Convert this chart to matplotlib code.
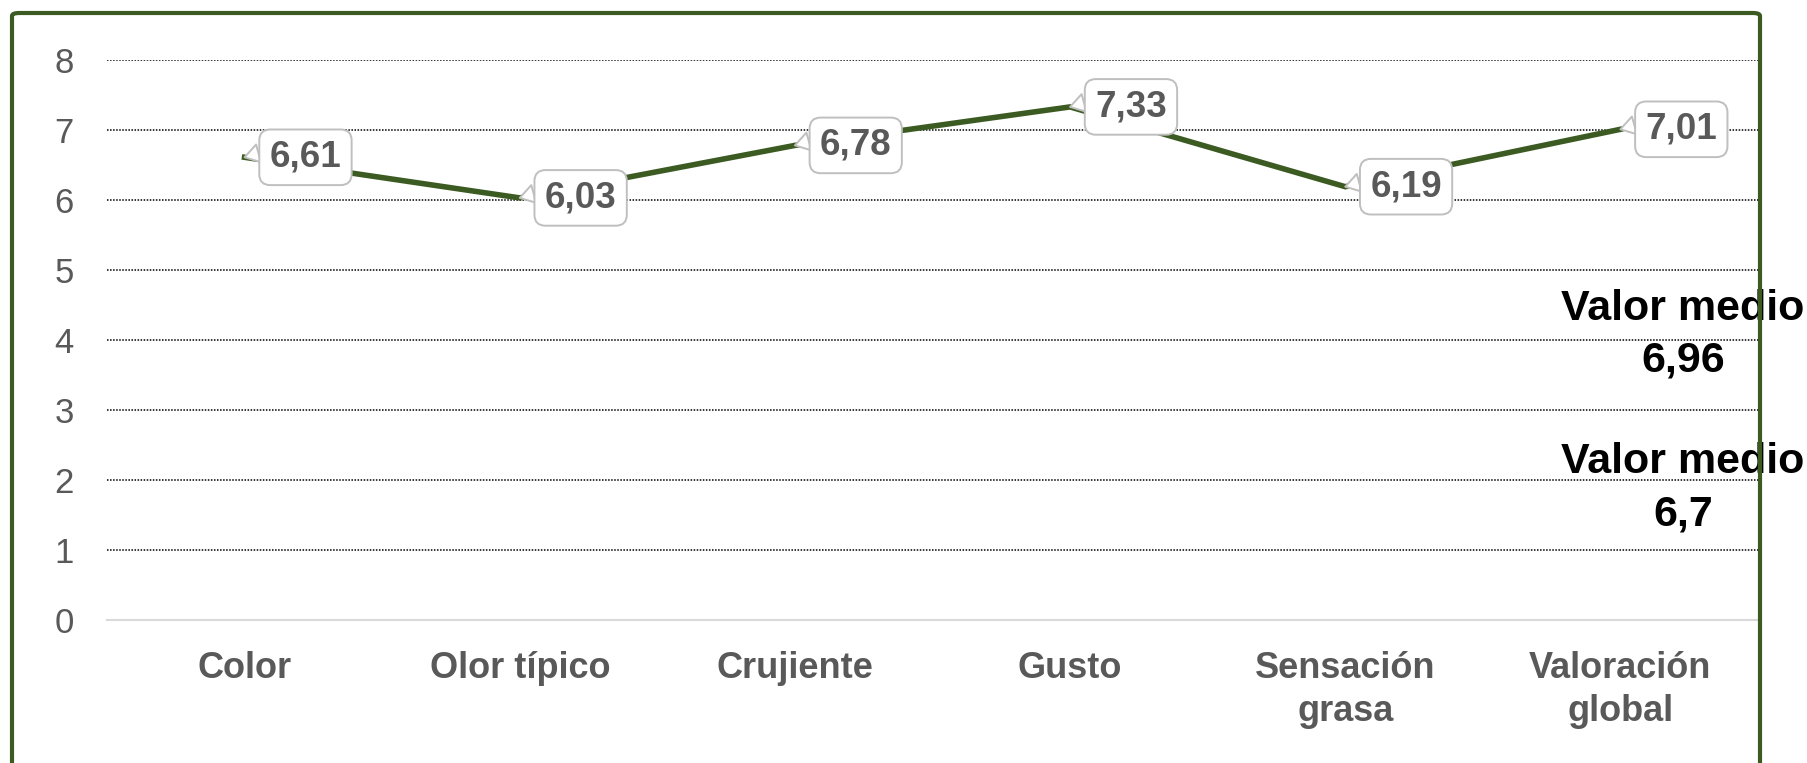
import matplotlib.pyplot as plt
from matplotlib.patches import FancyBboxPatch
import numpy as np

#--- データ ---#
categories = ['Color', 'Olor típico', 'Crujiente', 'Gusto', 'Sensación\ngrasa', 'Valoración\nglobal']
values = [6.61, 6.03, 6.78, 7.33, 6.19, 7.01]
value_labels = ['6,61', '6,03', '6,78', '7,33', '6,19', '7,01']
y_ticks = [0, 1, 2, 3, 4, 5, 6, 7, 8]
mean_titles = ['Valor medio', 'Valor medio']
mean_values = ['6,96', '6,7']

#--- 色 ---#
green = '#3b5b22'
gray_text = '#595959'
box_edge = '#bfbfbf'

plt.rcParams['font.family'] = ['Liberation Sans', 'DejaVu Sans']

W, H = 1808, 763
fig = plt.figure(figsize=(W / 100, H / 100), dpi=100)
ax = fig.add_axes([107 / W, 1 - 620 / H, (1758 - 107) / W, (620 - 60) / H])

x = np.arange(len(categories))
ax.plot(x, values, color=green, lw=4.0, solid_joinstyle='miter', zorder=3)

# データラベル (吹き出し)
for xi, v, lab in zip(x, values, value_labels):
    ax.annotate(lab, xy=(xi, v), xytext=(25, 0), textcoords='offset pixels',
                ha='left', va='center', fontsize=26.5, fontweight='bold', color=gray_text,
                bbox=dict(boxstyle='round,pad=0.28,rounding_size=0.3', fc='white', ec=box_edge, lw=1.4),
                arrowprops=dict(arrowstyle='wedge,tail_width=0.5,shrink_factor=0.5', fc='white', ec=box_edge,
                                lw=1.4, shrinkA=0, shrinkB=0, relpos=(0, 0.7)),
                zorder=4)

# 軸設定
ax.set_xlim(-0.5, len(categories) - 0.5)
ax.set_ylim(0, 8)
ax.set_yticks(y_ticks)
ax.set_xticks(x)
ax.set_xticklabels(categories, fontsize=26, fontweight='bold', color=gray_text, linespacing=1.3)
ax.tick_params(axis='y', length=0, pad=24, labelsize=25, labelcolor=gray_text)
ax.tick_params(axis='x', length=0, pad=22)

for s in ['top', 'right', 'left']:
    ax.spines[s].set_visible(False)
ax.spines['bottom'].set_color('#d9d9d9')
ax.spines['bottom'].set_linewidth(1.5)

ax.yaxis.grid(True, color='black', linestyle=(0, (1, 1)), lw=1.1)
ax.yaxis.get_gridlines()[0].set_visible(False)
ax.set_axisbelow(True)

# 平均値テキスト
title_y = [309, 462]
value_y = [361, 514]
for t, v, ty, vy in zip(mean_titles, mean_values, title_y, value_y):
    fig.text(1683 / W, 1 - ty / H, t, ha='center', va='center', fontsize=31,
             fontweight='bold', color='black', zorder=5)
    fig.text(1683 / W, 1 - vy / H, v, ha='center', va='center', fontsize=31,
             fontweight='bold', color='black', zorder=5)

# 外枠
frame = FancyBboxPatch((12 / W, -0.05), (1760 - 12) / W, 1 - 13 / H + 0.05,
                       boxstyle='round,pad=0,rounding_size=0.004', transform=fig.transFigure,
                       fill=False, ec=green, lw=3, zorder=10)
fig.patches.append(frame)

fig.savefig('out.png', dpi=100)
